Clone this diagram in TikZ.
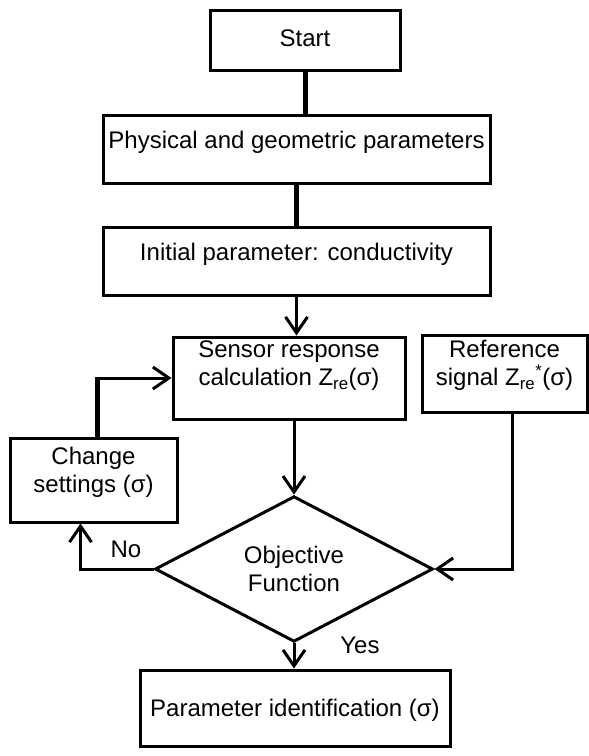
\documentclass[tikz,border=0pt]{standalone}
\usepackage{fontspec}
\setmainfont{Liberation Sans}
\usetikzlibrary{positioning, shapes.geometric, arrows.meta, calc}

\begin{document}
\begin{tikzpicture}[
    x=1pt, y=-1pt,
    font=\fontsize{24}{28}\selectfont,
    box/.style={rectangle, draw, line width=3pt, inner sep=0pt},
    txt/.style={align=center, yshift=#1},
    txt/.default=7pt,
    decision/.style={diamond, draw, line width=3pt, align=center, inner sep=0pt, minimum width=278pt, minimum height=114pt},
    arrow/.style={-{Straight Barb[length=16pt, width=22pt]}, line width=3pt},
    link/.style={line width=5pt}
]
\useasboundingbox (0,0) rectangle (589,756);

% Top chain
\node[box, minimum width=190pt, minimum height=60pt, label={[txt=2pt]center:Start}] (start) at (305,40) {};
\node[box, minimum width=387pt, minimum height=68pt, label={[txt]center:Physical and geometric parameters}] (phys) at (296.5,149) {};
\node[box, minimum width=387pt, minimum height=68pt, label={[txt]center:Initial parameter: conductivity}] (init) at (296.5,261.5) {};

% Middle row
\node[box, minimum width=232pt, minimum height=82pt, label={[txt=12pt]center:Sensor response\\calculation Z\textsubscript{re}(σ)}] (sensor) at (289,378) {};
\node[box, minimum width=165pt, minimum height=77pt, label={[txt=8pt]center:Reference\\signal Z\textsubscript{re}\textsuperscript{*}(σ)}] (ref) at (504.5,373.5) {};
\node[box, minimum width=167pt, minimum height=84pt, label={[txt=8pt]center:Change\\settings (σ)}] (change) at (93.5,480) {};

% Decision
\node[decision] (obj) at (294,569) {Objective\\Function};

% Output
\node[box, minimum width=310pt, minimum height=76pt, label={[txt=-2pt]center:Parameter identification (σ)}] (param) at (295,708) {};

% Arrows
\draw[link] (start) -- (start |- phys.north);
\draw[link] (phys.south) -- (init.north);
\draw[arrow] (init.south) -- (init.south |- sensor.north);
\draw[link] ([xshift=4pt]change.north) -- ++(0,-60) coordinate (turn);
\draw[arrow] ([xshift=-1pt]turn) |- (sensor.west);
\draw[arrow] (obj.north |- sensor.south) -- (obj.north);
\draw[arrow] (obj.west) -| ([xshift=-13pt]change.south);
\draw[arrow] ([xshift=8pt]ref.south) |- (obj.east);
\draw[arrow] (obj.south) -- (obj.south |- param.north);

% Labels
\node (no) at (126,549) {No};
\node (yes) at (360,645) {Yes};
\end{tikzpicture}
\end{document}
